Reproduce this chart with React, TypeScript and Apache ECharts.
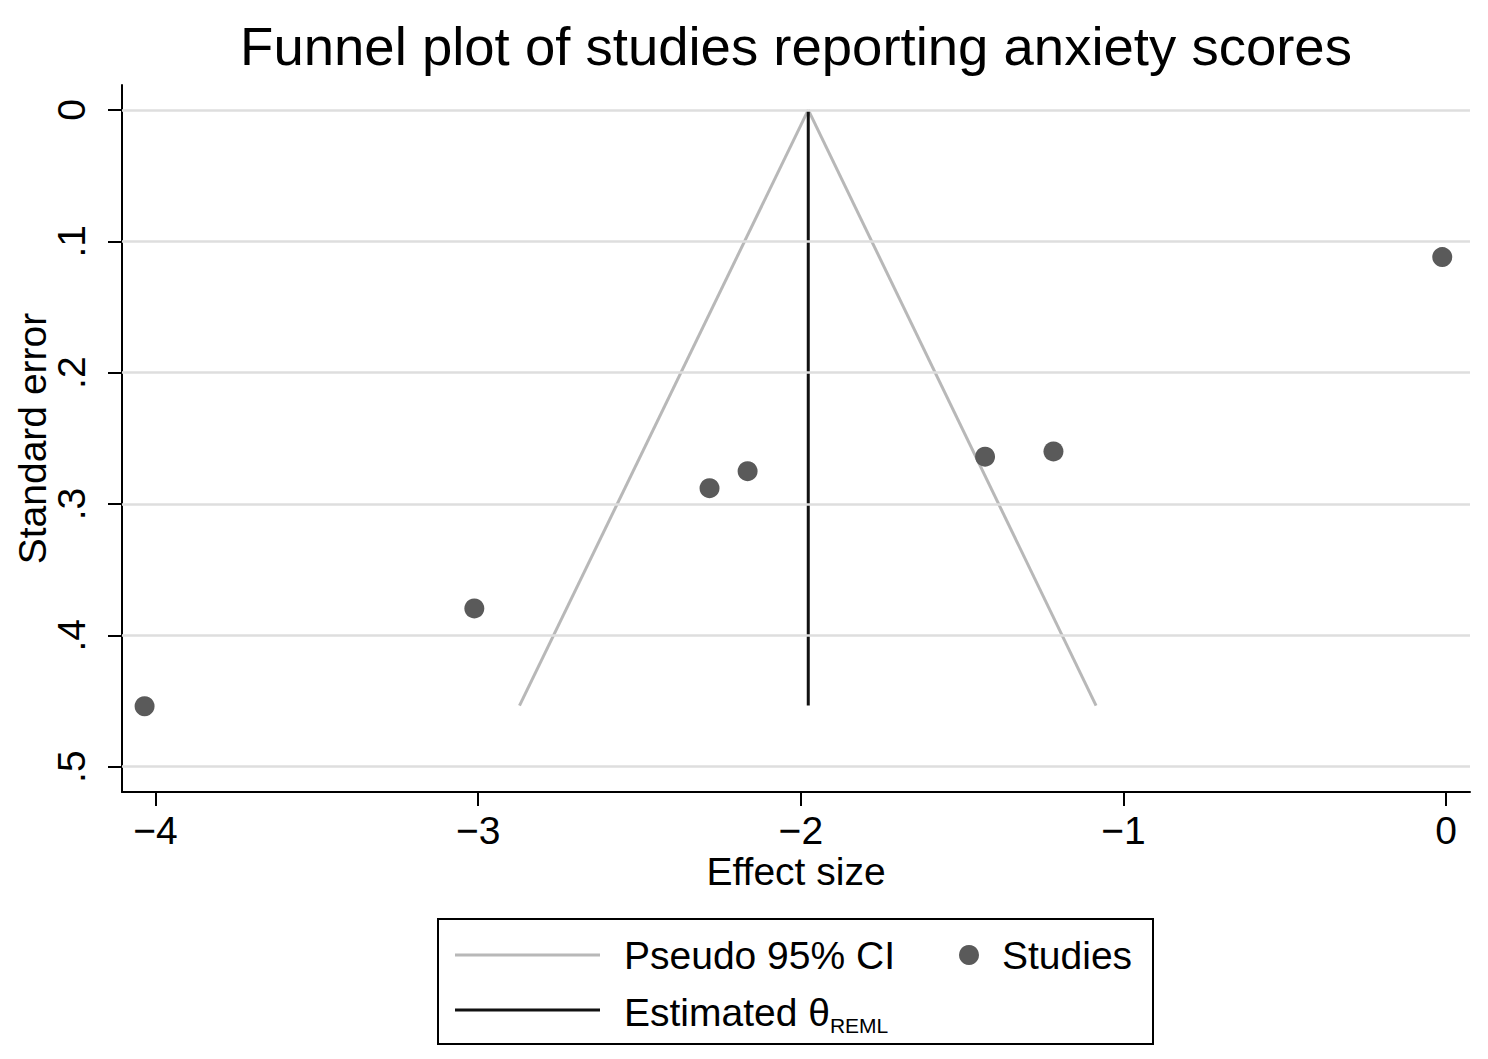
import React, { useEffect, useRef } from "react";
import * as echarts from "echarts";

const titleText = "Funnel plot of studies reporting anxiety scores";
const xTicks = [-4, -3, -2, -1, 0];
const yTicks = [0, 0.1, 0.2, 0.3, 0.4, 0.5];
const yTickLabels = ["0", ".1", ".2", ".3", ".4", ".5"];

const studyEffect = [-4.034, -3.012, -2.283, -2.165, -1.429, -1.217, -0.012];
const studySE = [0.454, 0.3795, 0.288, 0.275, 0.264, 0.26, 0.112];

const thetaREML = -1.977;
const seMax = 0.4535;
const ciLeftX = [-1.977, -2.872];
const ciRightX = [-1.977, -1.085];
const ciY = [0, 0.4535];

const FONT = "Liberation Sans, Arial, Helvetica, sans-serif";
const FS = 39;

export default function App() {
  const ref = useRef<HTMLDivElement>(null);
  useEffect(() => {
    const chart = echarts.init(ref.current!, null, { renderer: "svg" });
    const studies = studyEffect.map((x, i) => [x, studySE[i]]);
    const left = ciLeftX.map((x, i) => [x, ciY[i]]);
    const right = ciRightX.map((x, i) => [x, ciY[i]]);
    const theta = [
      [thetaREML, 0],
      [thetaREML, seMax],
    ];
    const lx = 455, lx2 = 600, ly1 = 955, ly2 = 1010;
    chart.setOption({
      animation: false,
      backgroundColor: "#ffffff",
      textStyle: { fontFamily: FONT },
      grid: {
        left: 122,
        right: 18,
        top: 85,
        bottom: 267,
        containLabel: false,
        outerBoundsMode: "none",
      },
      xAxis: {
        type: "value",
        min: -4.104,
        max: 0.074,
        name: "Effect size",
        nameLocation: "middle",
        nameGap: 60,
        nameMoveOverlap: false,
        nameTextStyle: { fontSize: FS, color: "#000", fontFamily: FONT },
        axisLine: { show: true, onZero: false, lineStyle: { color: "#000", width: 2 } },
        axisTick: { show: true, length: 14, lineStyle: { color: "#000", width: 2 }, customValues: xTicks },
        axisLabel: {
          fontSize: FS,
          color: "#000",
          margin: 19,
          fontFamily: FONT,
          customValues: xTicks,
          formatter: (v: number) => (v < 0 ? "\u2212" + Math.abs(v) : String(v)),
        },
        splitLine: { show: false },
      },
      yAxis: {
        type: "value",
        inverse: true,
        min: -0.019,
        max: 0.5193,
        name: "Standard error",
        nameLocation: "middle",
        nameGap: 70,
        nameRotate: 90,
        nameMoveOverlap: false,
        nameTextStyle: { fontSize: FS, color: "#000", fontFamily: FONT },
        axisLine: { show: true, onZero: false, lineStyle: { color: "#000", width: 2 } },
        axisTick: { show: true, length: 14, lineStyle: { color: "#000", width: 2 }, customValues: yTicks },
        axisLabel: {
          fontSize: FS,
          color: "#000",
          rotate: 90,
          margin: 31,
          fontFamily: FONT,
          customValues: yTicks,
          formatter: (v: number) => {
            const i = yTicks.findIndex((t) => Math.abs(t - v) < 1e-6);
            return i >= 0 ? yTickLabels[i] : "";
          },
        },
        splitLine: { show: false },
      },
      series: [
        {
          type: "line",
          data: yTicks.map((t) => [-4.104, t]),
          showSymbol: false,
          lineStyle: { opacity: 0 },
          markLine: {
            silent: true,
            symbol: "none",
            label: { show: false },
            lineStyle: { color: "#dedede", width: 2.5, type: "solid" },
            data: yTicks.map((t) => [
              { coord: [-4.104, t] },
              { coord: [0.074, t] },
            ]),
          },
          z: 1,
        },
        {
          type: "line",
          data: left,
          showSymbol: false,
          lineStyle: { color: "#b8b8b8", width: 3 },
          z: 2,
        },
        {
          type: "line",
          data: right,
          showSymbol: false,
          lineStyle: { color: "#b8b8b8", width: 3 },
          z: 2,
        },
        {
          type: "line",
          data: theta,
          showSymbol: false,
          lineStyle: { color: "#111", width: 3 },
          z: 3,
        },
        {
          type: "scatter",
          data: studies,
          symbol: "circle",
          symbolSize: 20,
          itemStyle: { color: "#5a5a5a", opacity: 1 },
          z: 4,
        },
      ],
      graphic: [
        {
          type: "text",
          x: 796,
          y: 46,
          style: {
            text: titleText,
            fontSize: 54.5,
            fill: "#000",
            fontFamily: FONT,
            align: "center",
            verticalAlign: "middle",
          },
        },
        {
          type: "rect",
          shape: { x: 438, y: 919, width: 715, height: 125 },
          style: { fill: "#fff", stroke: "#000", lineWidth: 2 },
        },
        {
          type: "line",
          shape: { x1: lx, y1: ly1, x2: lx2, y2: ly1 },
          style: { stroke: "#b8b8b8", lineWidth: 3 },
        },
        {
          type: "text",
          x: 624,
          y: ly1,
          style: { text: "Pseudo 95% CI", fontSize: FS, fill: "#000", fontFamily: FONT, verticalAlign: "middle" },
        },
        {
          type: "circle",
          shape: { cx: 969, cy: ly1, r: 10 },
          style: { fill: "#5a5a5a" },
        },
        {
          type: "text",
          x: 1002,
          y: ly1,
          style: { text: "Studies", fontSize: FS, fill: "#000", fontFamily: FONT, verticalAlign: "middle" },
        },
        {
          type: "line",
          shape: { x1: lx, y1: ly2, x2: lx2, y2: ly2 },
          style: { stroke: "#111", lineWidth: 3 },
        },
        {
          type: "text",
          x: 624,
          y: ly2 - 21,
          style: {
            text: "Estimated θ{sub|REML}",
            fontSize: FS,
            fill: "#000",
            fontFamily: FONT,
            rich: {
              sub: { fontSize: 21, fontFamily: FONT, fill: "#000", padding: [26, 0, 0, 0] },
            },
          },
        },
      ],
    });
    return () => chart.dispose();
  }, []);
  return <div ref={ref} style={{ width: 1488, height: 1059, margin: -8 }} />;
}
